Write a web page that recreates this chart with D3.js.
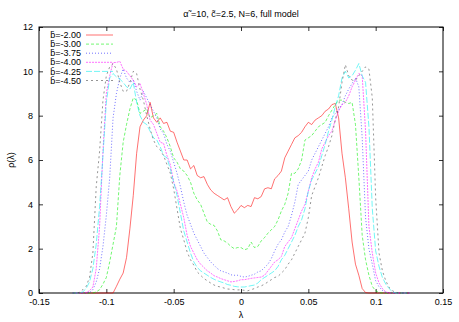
<!DOCTYPE html>
<html>
<head>
<meta charset="utf-8">
<script src="https://cdn.jsdelivr.net/npm/d3@7"></script>
<style>
  body { margin: 0; background: #fff; }
  text { font-family: "Liberation Sans", Arial, sans-serif; fill: #000; }
</style>
</head>
<body>
<div id="chart"></div>
<script>
// lambda grid shared by all series (-0.125 .. 0.125, step 0.0025)
const lambda = d3.range(0, 101).map((i) => +(-0.125 + i * 0.0025).toFixed(4));

// rho(lambda), 10 values per row
const rhoB200 = [
  0, 0, 0, 0, 0, 0, 0, 0, 0, 0,
  0, 0, 0, 0.3, 0.62, 0.9, 1.6, 2.9, 4.4, 6.3,
  7.5, 7.8, 8.0, 8.6, 7.9, 7.7, 7.9, 7.65, 7.7, 7.3,
  7.25, 6.8, 6.4, 6.0, 6.0, 5.6, 5.75, 5.3, 5.2, 5.25,
  4.9, 4.65, 4.5, 4.4, 4.3, 4.2, 4.3, 3.9, 3.6, 3.75,
  3.95, 3.85, 3.95, 3.9, 4.3, 4.25, 4.35, 4.7, 4.75, 4.7,
  5.15, 5.3, 5.5, 6.1, 6.4, 6.7, 7.0, 7.1, 7.25, 7.5,
  7.7, 7.6, 7.8, 7.9, 8.0, 8.2, 8.3, 8.5, 8.55, 7.9,
  6.3, 5.2, 3.8, 2.3, 1.3, 0.8, 0.2, 0.02, 0, 0,
  0, 0, 0, 0, 0, 0, 0, 0, 0, 0,
  0];
const rhoB300 = [
  0, 0, 0, 0, 0, 0, 0, 0.05, 0.15, 0.4,
  0.7, 1.4, 2.2, 3.0, 5.3, 6.8, 7.6, 8.3, 8.8, 8.7,
  8.1, 8.2, 8.3, 7.9, 8.0, 8.1, 7.5, 7.3, 7.0, 6.6,
  6.1, 5.9, 5.6, 5.5, 5.3, 5.0, 4.5, 4.2, 4.0, 3.6,
  3.2, 3.1, 3.05, 2.8, 2.4, 2.35, 2.25, 2.1, 2.0, 2.05,
  2.05, 1.95, 2.0, 2.3, 2.05, 2.1, 2.35, 2.5, 2.7, 2.85,
  3.0, 3.3, 3.7, 4.0, 4.5, 5.4, 5.4, 5.6, 6.0, 6.9,
  7.0, 7.1, 7.3, 7.5, 7.6, 7.7, 8.0, 8.25, 8.5, 8.7,
  8.7, 8.6, 8.55, 8.6, 7.6, 5.2, 2.6, 1.5, 0.8, 0.3,
  0.1, 0.02, 0, 0, 0, 0, 0, 0, 0, 0,
  0];
const rhoB375 = [
  0, 0, 0, 0, 0, 0.02, 0.15, 0.5, 1.1, 2.1,
  3.5, 5.2, 7.9, 9.0, 9.7, 10.1, 9.7, 9.5, 9.6, 9.1,
  8.7, 9.1, 8.8, 8.5, 8.2, 7.9, 7.4, 7.2, 6.7, 6.4,
  5.9, 5.4, 4.8, 4.1, 3.5, 3.1, 2.7, 2.4, 2.1, 1.8,
  1.6, 1.4, 1.25, 1.1, 1.0, 0.95, 0.9, 0.82, 0.8, 0.8,
  0.75, 0.72, 0.75, 0.8, 0.85, 0.95, 1.0, 1.15, 1.3, 1.55,
  1.9, 2.2, 2.4, 2.75, 3.0, 3.5, 4.1, 4.9, 5.1, 5.3,
  5.5, 6.0, 6.3, 6.6, 6.9, 7.2, 7.5, 7.9, 8.1, 8.3,
  8.5, 8.9, 9.2, 9.45, 9.7, 9.3, 7.0, 3.4, 2.0, 1.3,
  0.55, 0.28, 0.12, 0.03, 0, 0, 0, 0, 0, 0,
  0];
const rhoB400 = [
  0, 0, 0, 0, 0.02, 0.1, 0.27, 1.1, 3.0, 6.4,
  9.0, 9.8, 10.4, 10.4, 10.45, 10.1, 10.0, 9.8, 9.6, 9.3,
  9.45, 9.0, 8.5, 7.8, 7.6, 7.2, 6.8, 6.75, 6.2, 5.8,
  5.0, 4.6, 4.0, 3.4, 2.6, 2.1, 1.8, 1.5, 1.3, 1.15,
  1.0, 0.9, 0.78, 0.72, 0.65, 0.6, 0.55, 0.5, 0.52, 0.55,
  0.6, 0.6, 0.63, 0.66, 0.68, 0.7, 0.72, 0.8, 1.0, 1.2,
  1.4, 1.5, 1.65, 2.1, 2.3, 2.5, 2.9, 3.3, 3.7, 4.0,
  4.6, 5.2, 5.6, 5.9, 6.5, 6.8, 7.1, 7.3, 7.8, 8.2,
  8.5, 8.6, 8.9, 9.3, 9.6, 9.9, 9.8, 7.3, 3.0, 1.8,
  0.9, 0.45, 0.2, 0.05, 0, 0, 0, 0, 0, 0,
  0];
const rhoB425 = [
  0, 0, 0, 0.05, 0.2, 0.5, 1.1, 2.2, 3.9, 6.2,
  8.6, 9.7, 9.9, 9.75, 9.65, 9.5, 9.3, 9.2, 9.5, 8.6,
  8.0, 7.7, 7.6, 7.3, 7.0, 6.9, 6.6, 6.2, 6.1, 5.6,
  5.0, 4.4, 3.6, 2.8, 2.3, 1.8, 1.4, 1.15, 1.0, 0.9,
  0.8, 0.7, 0.62, 0.55, 0.5, 0.45, 0.38, 0.35, 0.3, 0.28,
  0.27, 0.27, 0.3, 0.33, 0.36, 0.45, 0.6, 0.7, 0.8, 0.9,
  1.0, 1.2, 1.5, 1.7, 2.0, 2.3, 2.6, 3.0, 3.3, 3.8,
  4.6, 5.1, 5.4, 5.7, 6.2, 6.7, 7.3, 7.8, 8.4, 8.9,
  9.7, 10.0, 9.7, 9.8, 10.05, 10.35, 9.8, 9.5, 7.5, 3.8,
  1.9, 1.2, 0.7, 0.4, 0.2, 0.05, 0, 0, 0, 0,
  0];
const rhoB450 = [
  0, 0, 0.03, 0.15, 0.3, 0.7, 1.8, 4.8, 6.4, 8.7,
  9.8, 10.2, 10.35, 10.1, 9.5, 9.1, 9.1, 9.5, 10.0, 9.9,
  9.2, 8.7, 8.0, 7.4, 6.9, 6.6, 6.45, 6.2, 5.8, 5.4,
  4.7, 3.8, 2.9, 2.4, 1.85, 1.5, 1.25, 0.95, 0.8, 0.65,
  0.55, 0.45, 0.36, 0.3, 0.27, 0.22, 0.18, 0.17, 0.15, 0.14,
  0.14, 0.12, 0.1, 0.15, 0.2, 0.27, 0.32, 0.4, 0.5, 0.6,
  0.7, 0.75, 0.9, 1.05, 1.3, 1.5, 1.8, 2.1, 2.4, 2.7,
  3.4, 4.4, 4.8, 5.2, 5.7, 6.2, 6.6, 7.1, 7.8, 8.4,
  9.5, 10.3, 9.8, 9.6, 9.6, 9.8, 10.0, 10.2, 10.1, 8.8,
  4.3, 1.8, 1.0, 0.55, 0.25, 0.1, 0.03, 0, 0, 0,
  0];

const labels = ["b\u0304=-2.00", "b\u0304=-3.00", "b\u0304=-3.75", "b\u0304=-4.00", "b\u0304=-4.25", "b\u0304=-4.50"];
const colors = ["#ff0000", "#00ee00", "#0000ff", "#ff00ff", "#00eeee", "#404040"];
const dashes = [null, "3,2", "1,2", "2,1", "6,2", "2,3"];
const xTicks = [-0.15, -0.1, -0.05, 0, 0.05, 0.1, 0.15];
const yTicks = [0, 2, 4, 6, 8, 10, 12];

const series = [rhoB200, rhoB300, rhoB375, rhoB400, rhoB425, rhoB450].map((vals, i) => ({
  label: labels[i],
  color: colors[i],
  dash: dashes[i],
  values: vals.map((v, j) => [lambda[j], v])
}));

const width = 459, height = 322;
const margin = { top: 27, right: 16, bottom: 29, left: 39 };
const iw = width - margin.left - margin.right,
  ih = height - margin.top - margin.bottom;

const svg = d3.select("#chart").append("svg")
  .attr("width", width).attr("height", height);

const x = d3.scaleLinear().domain([-0.15, 0.15]).range([0, iw]);
const y = d3.scaleLinear().domain([0, 12]).range([ih, 0]);

const g = svg.append("g").attr("transform", `translate(${margin.left},${margin.top})`);

// axes: gnuplot style, ticks inward and mirrored
const fmt = (d) => String(+d.toFixed(2));
g.append("g").attr("transform", `translate(0,${ih})`)
  .call(d3.axisBottom(x).tickValues(xTicks).tickFormat(fmt).tickSize(-4).tickPadding(6));
g.append("g")
  .call(d3.axisLeft(y).tickValues(yTicks).tickFormat(fmt).tickSize(-4).tickPadding(6));
g.append("g").call(d3.axisTop(x).tickValues(xTicks).tickFormat("").tickSize(-4));
g.append("g").attr("transform", `translate(${iw},0)`)
  .call(d3.axisRight(y).tickValues(yTicks).tickFormat("").tickSize(-4));
g.selectAll(".domain").remove();
g.selectAll(".tick line").attr("stroke", "#000").attr("stroke-width", 0.8);
g.selectAll(".tick text").style("font-size", "9px").attr("fill", "#000");

g.append("rect").attr("width", iw).attr("height", ih)
  .attr("fill", "none").attr("stroke", "#000").attr("stroke-width", 1);

// curves
const line = d3.line().x((d) => x(d[0])).y((d) => y(d[1]));
g.append("g").selectAll("path").data(series).enter().append("path")
  .attr("d", (d) => line(d.values))
  .attr("fill", "none")
  .attr("stroke", (d) => d.color)
  .attr("stroke-width", 0.8)
  .attr("stroke-opacity", 0.7)
  .attr("stroke-dasharray", (d) => d.dash);

// legend
const legend = g.append("g").attr("transform", "translate(42,8)");
const rows = legend.selectAll("g").data(series).enter().append("g")
  .attr("transform", (d, i) => `translate(0,${i * 9.1})`);
rows.append("text").attr("text-anchor", "end").attr("dy", "0.35em")
  .style("font-size", "9px").text((d) => d.label);
rows.append("line").attr("x1", 5).attr("x2", 32)
  .attr("stroke", (d) => d.color).attr("stroke-width", 0.8).attr("stroke-opacity", 0.7)
  .attr("stroke-dasharray", (d) => d.dash);

// titles
svg.append("text").attr("x", margin.left + iw / 2).attr("y", 17)
  .attr("text-anchor", "middle").style("font-size", "9px")
  .text("\u03B1\u0303 =10, c\u0303=2.5, N=6, full model");
svg.append("text").attr("x", margin.left + iw / 2).attr("y", 318)
  .attr("text-anchor", "middle").style("font-size", "9px").text("\u03BB");
svg.append("text").attr("transform", `translate(14,${margin.top + ih / 2}) rotate(-90)`)
  .attr("text-anchor", "middle").style("font-size", "9px").text("\u03C1(\u03BB)");
</script>
</body>
</html>
